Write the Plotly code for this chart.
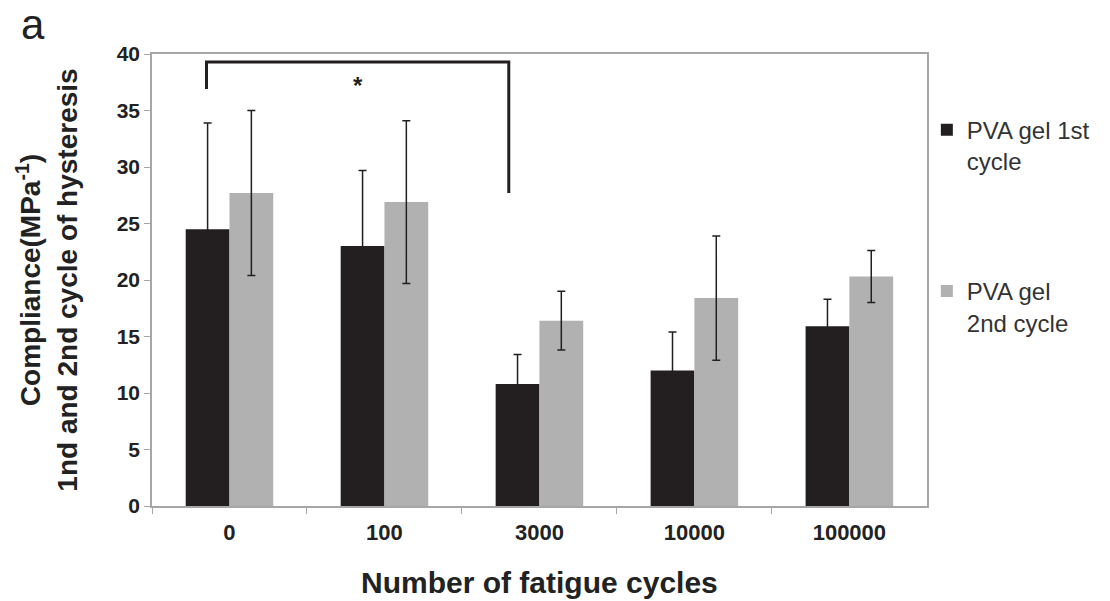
import plotly.graph_objects as go

categories = ["0", "100", "3000", "10000", "100000"]
first_cycle = [24.5, 23.0, 10.8, 12.0, 15.9]
first_err = [9.4, 6.7, 2.6, 3.4, 2.4]
second_cycle = [27.7, 26.9, 16.4, 18.4, 20.3]
second_err = [7.3, 7.2, 2.6, 5.5, 2.3]
series_names = ["PVA gel 1st<br>cycle", "PVA gel<br>2nd cycle"]

# significance bracket between category 0 and category 2 (first-cycle bars)
sig_from, sig_to = 0, 2
sig_top = 39.3
sig_left_drop = 36.9
sig_right_drop = 27.7

DARK = "#231f20"
GRAY = "#b2b1b2"
AXIS = "#a6a6a6"
FONT = "Liberation Sans, Arial, sans-serif"

fig = go.Figure()
fig.add_trace(go.Bar(
    x=categories, y=first_cycle, name=series_names[0],
    marker=dict(color=DARK, line=dict(width=0)),
    error_y=dict(type="data", array=first_err, visible=True, color=DARK, thickness=1.5, width=4),
    legendgroup="a",
))
fig.add_trace(go.Bar(
    x=categories, y=second_cycle, name=series_names[1],
    marker=dict(color=GRAY, line=dict(width=0)),
    error_y=dict(type="data", array=second_err, visible=True, color=DARK, thickness=1.5, width=4),
    legendgroup="b",
))

# bracket: offset from category centre to the first-cycle bar centre
bargap = 0.435
half_bar = (1 - bargap) / 4
xl = sig_from - half_bar * 1.05
xr = sig_to - half_bar * 1.4
fig.add_shape(type="path",
              path=f"M {xl},{sig_left_drop} L {xl},{sig_top} L {xr},{sig_top} L {xr},{sig_right_drop}",
              xref="x", yref="y", line=dict(color=DARK, width=3))
fig.add_annotation(x=(xl + xr) / 2, y=sig_left_drop + 0.3, xref="x", yref="y",
                   text="*", showarrow=False, font=dict(family=FONT, size=24, color=DARK, weight="bold"))
fig.add_annotation(x=-0.153, y=1.122, xref="paper", yref="paper", text="a", showarrow=False,
                   xanchor="center", yanchor="top",
                   font=dict(family=FONT, size=42, color="#222222"))

fig.update_layout(
    width=1110, height=601,
    margin=dict(l=152, r=177, t=54, b=95),
    paper_bgcolor="white", plot_bgcolor="white",
    barmode="group", bargap=bargap, bargroupgap=0,
    font=dict(family=FONT, color="#222222"),
    showlegend=True,
    legend=dict(xref="container", yref="container", x=0.835, y=0.821, xanchor="left", yanchor="top",
                font=dict(family=FONT, size=24, color="#333333"),
                tracegroupgap=96, valign="top", itemwidth=30,
                bgcolor="rgba(0,0,0,0)"),
    xaxis=dict(
        type="category", showline=True, linecolor=AXIS, linewidth=1.5, mirror=True,
        ticks="outside", tickson="boundaries", ticklen=6, tickcolor=AXIS,
        ticklabelstandoff=6, automargin=False,
        tickfont=dict(family=FONT, size=22, color="#222222", weight="bold"),
        title=dict(text="Number of fatigue cycles", standoff=28,
                   font=dict(family=FONT, size=30, color="#222222", weight="bold")),
        showgrid=False,
    ),
    yaxis=dict(
        range=[0, 40], dtick=5, showline=True, linecolor=AXIS, linewidth=1.5, mirror=True,
        ticks="outside", ticklen=6, tickcolor=AXIS, showgrid=False, zeroline=False,
        automargin=False,
        tickfont=dict(family=FONT, size=21, color="#222222", weight="bold"),
        title=dict(text="Compliance(MPa<sup>-1</sup>)<br>1nd and 2nd cycle of hysteresis", standoff=31,
                   font=dict(family=FONT, size=28, color="#222222", weight="bold")),
    ),
)

fig.write_html("out.html")
